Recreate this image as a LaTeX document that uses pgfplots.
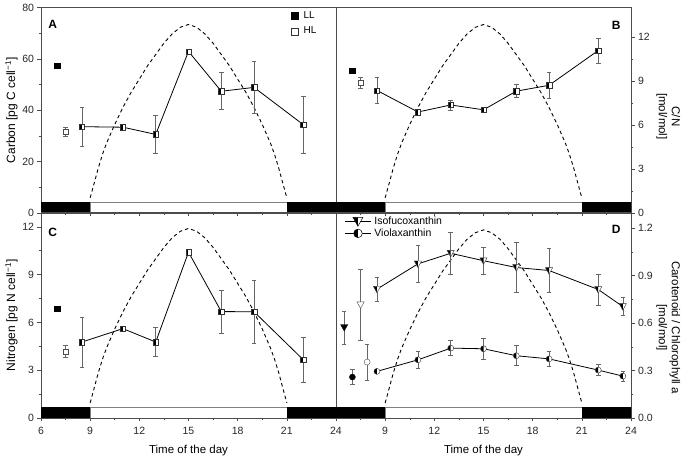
\documentclass[border=0pt]{standalone}
\usepackage{fontspec}
\setmainfont{Liberation Sans}
\usepackage{pgfplots}
\pgfplotsset{compat=1.18}
\usetikzlibrary{plotmarks}

% half-filled square (left half black)
\pgfdeclareplotmark{hsq}{%
 \begin{pgfscope}%
 \pgfpathrectangle{\pgfqpoint{-\pgfplotmarksize}{-\pgfplotmarksize}}{\pgfqpoint{2\pgfplotmarksize}{2\pgfplotmarksize}}%
 \pgfsetfillcolor{white}\pgfusepath{fill}%
 \pgfpathrectangle{\pgfqpoint{-\pgfplotmarksize}{-\pgfplotmarksize}}{\pgfqpoint{\pgfplotmarksize}{2\pgfplotmarksize}}%
 \pgfsetfillcolor{black}\pgfusepath{fill}%
 \pgfpathrectangle{\pgfqpoint{-\pgfplotmarksize}{-\pgfplotmarksize}}{\pgfqpoint{2\pgfplotmarksize}{2\pgfplotmarksize}}%
 \pgfusepath{stroke}%
 \end{pgfscope}%
}
% half-filled down triangle
\pgfdeclareplotmark{htri}{%
 \begin{pgfscope}%
 \pgfpathmoveto{\pgfqpoint{-\pgfplotmarksize}{.8\pgfplotmarksize}}%
 \pgfpathlineto{\pgfqpoint{\pgfplotmarksize}{.8\pgfplotmarksize}}%
 \pgfpathlineto{\pgfqpoint{0pt}{-\pgfplotmarksize}}%
 \pgfpathclose
 \pgfsetfillcolor{white}\pgfusepath{fill}%
 \pgfpathmoveto{\pgfqpoint{-\pgfplotmarksize}{.8\pgfplotmarksize}}%
 \pgfpathlineto{\pgfqpoint{0pt}{.8\pgfplotmarksize}}%
 \pgfpathlineto{\pgfqpoint{0pt}{-\pgfplotmarksize}}%
 \pgfpathclose
 \pgfsetfillcolor{black}\pgfusepath{fill}%
 \pgfpathmoveto{\pgfqpoint{-\pgfplotmarksize}{.8\pgfplotmarksize}}%
 \pgfpathlineto{\pgfqpoint{\pgfplotmarksize}{.8\pgfplotmarksize}}%
 \pgfpathlineto{\pgfqpoint{0pt}{-\pgfplotmarksize}}%
 \pgfpathclose
 \pgfusepath{stroke}%
 \end{pgfscope}%
}
% full down triangle (fill from options)
\pgfdeclareplotmark{dtri}{%
 \pgfpathmoveto{\pgfqpoint{-\pgfplotmarksize}{.8\pgfplotmarksize}}%
 \pgfpathlineto{\pgfqpoint{\pgfplotmarksize}{.8\pgfplotmarksize}}%
 \pgfpathlineto{\pgfqpoint{0pt}{-\pgfplotmarksize}}%
 \pgfpathclose
 \pgfusepathqfillstroke
}
% half-filled circle
\pgfdeclareplotmark{hcirc}{%
 \begin{pgfscope}%
 \pgfpathcircle{\pgfpointorigin}{\pgfplotmarksize}%
 \pgfsetfillcolor{white}\pgfusepath{fill}%
 \pgfpathmoveto{\pgfqpoint{0pt}{\pgfplotmarksize}}%
 \pgfpatharc{90}{270}{\pgfplotmarksize}%
 \pgfpathclose
 \pgfsetfillcolor{black}\pgfusepath{fill}%
 \pgfpathcircle{\pgfpointorigin}{\pgfplotmarksize}%
 \pgfusepath{stroke}%
 \end{pgfscope}%
}

\tikzset{plab/.style={font=\bfseries\fontsize{12}{14}\selectfont}}
\pgfplotsset{
 panel/.style={
  scale only axis, width=295pt, height=205.5pt,
  xmin=6, xmax=24, xtick={6,9,...,24}, minor x tick num=1,
  tick align=outside, xtick pos=bottom,
  axis line style={black!70, line width=0.6pt},
  major tick length=3.5pt, minor tick length=2pt,
  tick style={black!70, line width=0.5pt},
  ticklabel style={font=\fontsize{10.5}{12}\selectfont, text=black!85},
  xticklabel style={yshift=-2pt},
  /pgf/number format/assume math mode=true,
  every axis x label/.style={at={(rel axis cs:0.5,-0.16)}, anchor=center, font=\fontsize{11.5}{13.5}\selectfont},
 },
 lefty/.style={ytick pos=left,
  every axis y label/.style={at={(rel axis cs:-0.1,0.5)}, rotate=90, anchor=center, font=\fontsize{12}{14}\selectfont}},
 righty/.style={ytick pos=right, yticklabel pos=right,
  every axis y label/.style={at={(rel axis cs:1.127,#1)}, rotate=-90, anchor=center, align=center, font=\fontsize{11.5}{13}\selectfont}},
 curve/.style={black, line width=0.9pt, dash pattern=on 3.5pt off 3pt},
 ebar/.style={draw=none, mark=none, forget plot,
  error bars/.cd, y dir=both, y explicit,
  error bar style={black!60, line width=0.6pt},
  error mark options={rotate=90, mark size=2.3pt, black!60, line width=0.6pt}},
 series/.style={black, line width=0.8pt, mark=hsq, mark size=2.7pt, mark options={solid, line width=0.4pt, draw=black!80}},
}

\begin{document}
\begin{tikzpicture}
\useasboundingbox (0pt,0pt) rectangle (689pt,458pt);

% ---------------- Panel A ----------------
\begin{axis}[panel, lefty, at={(41pt,245pt)}, anchor=south west,
  ymin=0, ymax=80, ytick={0,20,...,80}, minor y tick num=1,
  xticklabels={}, ylabel={Carbon [pg C cell\textsuperscript{−1}]},
  legend style={at={(rel axis cs:0.845,0.995)}, anchor=north west, draw=none, fill=none,
    font=\fontsize{10}{11}\selectfont, row sep=3pt, column sep=3pt, inner sep=1pt},
  legend cell align=left]
\addplot[curve, forget plot] coordinates {
 (9.0,5.9)(9.25,11.7)(9.5,17.6)(9.75,22.8)(10,27.2)(10.5,34.5)(11,41.1)(11.5,47.0)(12,52.1)(12.5,57.3)(13,61.7)(13.5,66.1)(14,69.7)(14.5,72.3)(15,73.4)
 (15.5,72.3)(16,69.7)(16.5,66.1)(17,61.7)(17.5,57.3)(18,52.1)(18.5,47.0)(19,41.1)(19.5,34.5)(20,27.2)(20.25,22.8)(20.5,17.6)(20.75,11.7)(21,5.9)};
\addplot[fill=black, draw=black, forget plot] coordinates {(6,0)(9,0)(9,4.2)(6,4.2)} --cycle;
\addplot[fill=white, draw=black!50, forget plot] coordinates {(9,0)(21,0)(21,4.2)(9,4.2)} --cycle;
\addplot[fill=black, draw=black, forget plot] coordinates {(21,0)(24,0)(24,4.2)(21,4.2)} --cycle;
\addplot[ebar] coordinates {(7.5,31.6)+-(0,1.6)};
\addplot[ebar] coordinates {(8.5,33.6)+-(0,7.7)(11,33.4)+-(0,0.6)(13,30.6)+-(0,7.3)(15,62.9)+-(0,0.6)(17,47.4)+-(0,7.2)(19,48.9)+-(0,10.1)(22,34.4)+-(0,11.1)};
\addplot[series, forget plot] coordinates {(8.5,33.6)(11,33.4)(13,30.6)(15,62.9)(17,47.4)(19,48.9)(22,34.4)};
\addplot[only marks, mark=square*, mark size=2.7pt, black, forget plot] coordinates {(7.0,57.4)};
\addplot[only marks, mark=square*, mark size=2.7pt, draw=black!70, fill=white, forget plot] coordinates {(7.5,31.6)};
\addlegendimage{only marks, mark=square*, mark size=3.6pt, black}
\addlegendentry{LL}
\addlegendimage{only marks, mark=square*, mark size=3.6pt, draw=black!80, fill=white}
\addlegendentry{HL}
\node[plab] at (rel axis cs:0.04,0.92) {A};
\end{axis}

% ---------------- Panel B ----------------
\begin{axis}[panel, righty=0.47, at={(336pt,245pt)}, anchor=south west,
  ymin=0, ymax=14, ytick={0,3,...,12}, minor y tick num=1,
  xticklabels={}, ylabel={C/N\\{[mol/mol]}}]
\addplot[curve, forget plot] coordinates {
 (9.0,1.03)(9.25,2.05)(9.5,3.08)(9.75,3.98)(10,4.75)(10.5,6.03)(11,7.19)(11.5,8.22)(12,9.12)(12.5,10.02)(13,10.79)(13.5,11.56)(14,12.20)(14.5,12.65)(15,12.84)
 (15.5,12.65)(16,12.20)(16.5,11.56)(17,10.79)(17.5,10.02)(18,9.12)(18.5,8.22)(19,7.19)(19.5,6.03)(20,4.75)(20.25,3.98)(20.5,3.08)(20.75,2.05)(21,1.03)};
\addplot[fill=black, draw=black, forget plot] coordinates {(6,0)(9,0)(9,0.735)(6,0.735)} --cycle;
\addplot[fill=white, draw=black!50, forget plot] coordinates {(9,0)(21,0)(21,0.735)(9,0.735)} --cycle;
\addplot[fill=black, draw=black, forget plot] coordinates {(21,0)(24,0)(24,0.735)(21,0.735)} --cycle;
\addplot[ebar] coordinates {(7.5,8.87)+-(0,0.35)};
\addplot[ebar] coordinates {(8.5,8.35)+-(0,0.87)(11,6.88)+-(0,0.15)(13,7.36)+-(0,0.35)(15,7.03)+-(0,0.12)(17,8.30)+-(0,0.44)(19,8.70)+-(0,0.88)(22,11.07)+-(0,0.86)};
\addplot[series] coordinates {(8.5,8.35)(11,6.88)(13,7.36)(15,7.03)(17,8.30)(19,8.70)(22,11.07)};
\addplot[only marks, mark=square*, mark size=2.7pt, black] coordinates {(7.0,9.71)};
\addplot[only marks, mark=square*, mark size=2.7pt, draw=black!70, fill=white] coordinates {(7.5,8.87)};
\node[plab] at (rel axis cs:0.95,0.915) {B};
\end{axis}

% ---------------- Panel C ----------------
\begin{axis}[panel, lefty, at={(41pt,40pt)}, anchor=south west,
  ymin=0, ymax=12.9, ytick={0,3,...,12}, minor y tick num=1,
  xlabel={Time of the day}, ylabel={Nitrogen [pg N cell\textsuperscript{−1}]}]
\addplot[curve, forget plot] coordinates {
 (9.0,0.95)(9.25,1.90)(9.5,2.86)(9.75,3.69)(10,4.40)(10.5,5.59)(11,6.66)(11.5,7.62)(12,8.45)(12.5,9.28)(13,10.0)(13.5,10.71)(14,11.31)(14.5,11.72)(15,11.9)
 (15.5,11.72)(16,11.31)(16.5,10.71)(17,10.0)(17.5,9.28)(18,8.45)(18.5,7.62)(19,6.66)(19.5,5.59)(20,4.40)(20.25,3.69)(20.5,2.86)(20.75,1.90)(21,0.95)};
\addplot[fill=black, draw=black, forget plot] coordinates {(6,0)(9,0)(9,0.69)(6,0.69)} --cycle;
\addplot[fill=white, draw=black!50, forget plot] coordinates {(9,0)(21,0)(21,0.69)(9,0.69)} --cycle;
\addplot[fill=black, draw=black, forget plot] coordinates {(21,0)(24,0)(24,0.69)(21,0.69)} --cycle;
\addplot[ebar] coordinates {(7.5,4.17)+-(0,0.38)};
\addplot[ebar] coordinates {(8.5,4.77)+-(0,1.57)(11,5.61)+-(0,0.1)(13,4.77)+-(0,0.92)(15,10.41)+-(0,0.1)(17,6.68)+-(0,1.35)(19,6.67)+-(0,1.97)(22,3.66)+-(0,1.43)};
\addplot[series] coordinates {(8.5,4.77)(11,5.61)(13,4.77)(15,10.41)(17,6.68)(19,6.67)(22,3.66)};
\addplot[only marks, mark=square*, mark size=2.7pt, black] coordinates {(7.0,6.87)};
\addplot[only marks, mark=square*, mark size=2.7pt, draw=black!70, fill=white] coordinates {(7.5,4.17)};
\node[plab] at (rel axis cs:0.04,0.905) {C};
\end{axis}

% ---------------- Panel D ----------------
\begin{axis}[panel, righty=0.44, at={(336pt,40pt)}, anchor=south west,
  ymin=0, ymax=1.3, ytick={0,0.3,0.6,0.9,1.2}, minor y tick num=1,
  yticklabel style={/pgf/number format/.cd, fixed, fixed zerofill, precision=1},
  xticklabels={,9,12,15,18,21,24},
  xlabel={Time of the day}, ylabel={Carotenoid / Chlorophyll a\\{[mol/mol]}},
  legend style={at={(rel axis cs:0.025,0.995)}, anchor=north west, draw=none, fill=none,
    font=\fontsize{10.5}{11.5}\selectfont, row sep=-1pt, column sep=1pt, inner sep=1pt},
  legend cell align=left,
  legend image code/.code={\draw[mark repeat=2,mark phase=2,#1] plot coordinates {(0pt,0pt)(13pt,0pt)(26pt,0pt)};}]
\addplot[curve, forget plot] coordinates {
 (9.0,0.095)(9.25,0.19)(9.5,0.286)(9.75,0.369)(10,0.44)(10.5,0.559)(11,0.666)(11.5,0.762)(12,0.845)(12.5,0.928)(13,1.0)(13.5,1.071)(14,1.131)(14.5,1.172)(15,1.19)
 (15.5,1.172)(16,1.131)(16.5,1.071)(17,1.0)(17.5,0.928)(18,0.845)(18.5,0.762)(19,0.666)(19.5,0.559)(20,0.44)(20.25,0.369)(20.5,0.286)(20.75,0.19)(21,0.095)};
\addplot[fill=black, draw=black, forget plot] coordinates {(6,0)(9,0)(9,0.069)(6,0.069)} --cycle;
\addplot[fill=white, draw=black!50, forget plot] coordinates {(9,0)(21,0)(21,0.069)(9,0.069)} --cycle;
\addplot[fill=black, draw=black, forget plot] coordinates {(21,0)(24,0)(24,0.069)(21,0.069)} --cycle;
% single points
\addplot[ebar] coordinates {(6.5,0.573)+-(0,0.105)(7.5,0.716)+-(0,0.226)(7.0,0.259)+-(0,0.047)(7.9,0.354)+-(0,0.115)};
% series error bars
\addplot[ebar] coordinates {(8.5,0.815)+-(0,0.076)(11,0.975)+-(0,0.115)(13,1.042)+-(0,0.132)(15,0.995)+-(0,0.084)(17,0.952)+-(0,0.157)(19,0.933)+-(0,0.139)(22,0.813)+-(0,0.097)(23.5,0.705)+-(0,0.056)};
\addplot[ebar] coordinates {(8.5,0.295)+-(0,0.01)(11,0.368)+-(0,0.053)(13,0.442)+-(0,0.048)(15,0.438)+-(0,0.066)(17,0.394)+-(0,0.063)(19,0.374)+-(0,0.05)(22,0.303)+-(0,0.036)(23.5,0.265)+-(0,0.032)};
\addplot[black, line width=0.8pt, mark=htri, mark size=3.6pt, mark options={solid, line width=0.4pt, draw=black!80}, forget plot]
 coordinates {(8.5,0.815)(11,0.975)(13,1.042)(15,0.995)(17,0.952)(19,0.933)(22,0.813)(23.5,0.705)};
\addplot[black, line width=0.8pt, mark=hcirc, mark size=3pt, mark options={solid, line width=0.4pt, draw=black!80}, forget plot]
 coordinates {(8.5,0.295)(11,0.368)(13,0.442)(15,0.438)(17,0.394)(19,0.374)(22,0.303)(23.5,0.265)};
\addplot[only marks, mark=dtri, mark size=3.6pt, draw=black, fill=black, forget plot] coordinates {(6.5,0.573)};
\addplot[only marks, mark=dtri, mark size=3.6pt, draw=black!70, fill=white, forget plot] coordinates {(7.5,0.716)};
\addplot[only marks, mark=*, mark size=3pt, draw=black, fill=black, forget plot] coordinates {(7.0,0.259)};
\addplot[only marks, mark=*, mark size=3pt, draw=black!70, fill=white, forget plot] coordinates {(7.9,0.354)};
\addlegendimage{black, line width=0.8pt, mark=htri, mark size=5pt, mark options={solid, line width=0.5pt, draw=black}}
\addlegendentry{Isofucoxanthin}
\addlegendimage{black, line width=0.8pt, mark=hcirc, mark size=4.3pt, mark options={solid, line width=0.5pt, draw=black}}
\addlegendentry{Violaxanthin}
\node[plab] at (rel axis cs:0.95,0.917) {D};
\end{axis}
\end{tikzpicture}
\end{document}
